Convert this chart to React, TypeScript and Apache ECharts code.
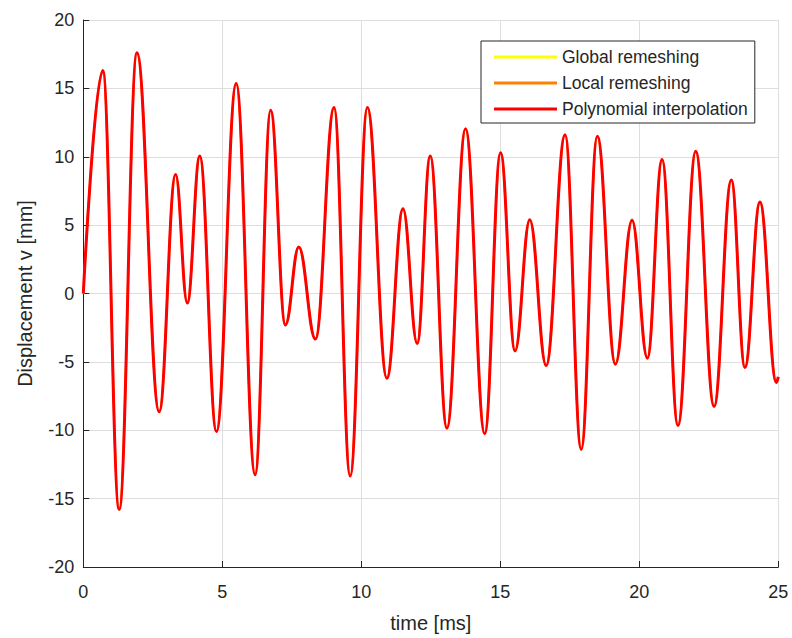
import React, { useEffect, useRef } from "react";
import * as echarts from "echarts";

// Extrema of the displacement trace (time in ms, displacement in mm)
const timeMs = [
  0, 0.7, 1.29, 1.93, 2.73, 3.32, 3.74, 4.19, 4.79, 5.5, 6.18, 6.74, 7.27, 7.75, 8.35,
  9.02, 9.6, 10.22, 10.92, 11.5, 12.01, 12.48, 13.08, 13.75, 14.44, 15.01, 15.53, 16.06,
  16.65, 17.33, 17.91, 18.49, 19.14, 19.74, 20.29, 20.82, 21.39, 22.03, 22.69, 23.31,
  23.8, 24.34, 24.93, 25.0,
];
const displacement = [
  0, 16.3, -15.8, 17.6, -8.65, 8.7, -0.7, 10.05, -10.1, 15.35, -13.25, 13.4, -2.3, 3.4,
  -3.33, 13.6, -13.35, 13.6, -6.2, 6.2, -3.65, 10.05, -9.85, 12.05, -10.25, 10.3, -4.2,
  5.4, -5.27, 11.6, -11.4, 11.5, -5.17, 5.36, -4.73, 9.8, -9.66, 10.4, -8.26, 8.3, -5.41,
  6.7, -6.5, -6.1,
];
// The three methods overlap completely in the reference
const globalRemeshing = displacement;
const localRemeshing = displacement;
const polynomialInterpolation = displacement;

const seriesNames = ["Global remeshing", "Local remeshing", "Polynomial interpolation"];
const seriesColors = ["#ffff00", "#ff8000", "#ff0000"];
const seriesValues = [globalRemeshing, localRemeshing, polynomialInterpolation];
const seriesWidths = [2, 2, 3];

const FONT = "'Liberation Sans', Arial, Helvetica, sans-serif";
const INK = "#262626";

export default function App() {
  const ref = useRef<HTMLDivElement>(null);
  useEffect(() => {
    if (!ref.current) return;
    const chart = echarts.init(ref.current, undefined, { renderer: "svg" });
    chart.setOption({
      animation: false,
      backgroundColor: "#ffffff",
      grid: { left: 83.3, top: 20, right: 13.7, bottom: 70.3, containLabel: false },
      legend: {
        orient: "vertical",
        left: 481,
        top: 41,
        padding: [6, 7, 4, 13],
        itemGap: 6,
        itemWidth: 63,
        itemHeight: 3,
        icon: "rect",
        borderColor: INK,
        borderWidth: 1,
        borderRadius: 0,
        backgroundColor: "#ffffff",
        data: seriesNames,
        textStyle: { fontFamily: FONT, fontSize: 17.5, color: INK, lineHeight: 20 },
      },
      xAxis: {
        type: "value",
        min: 0,
        max: 25,
        interval: 5,
        name: "time [ms]",
        nameLocation: "middle",
        nameGap: 46,
        nameTextStyle: { fontFamily: FONT, fontSize: 20, color: INK },
        axisLine: { show: true, onZero: false, lineStyle: { color: INK, width: 1 } },
        axisTick: { show: true, inside: true, length: 6, lineStyle: { color: INK } },
        axisLabel: { fontFamily: FONT, fontSize: 18, color: INK, margin: 16 },
        splitLine: { show: true, lineStyle: { color: "#dedede", width: 1 } },
      },
      yAxis: {
        type: "value",
        min: -20,
        max: 20,
        interval: 5,
        name: "Displacement v [mm]",
        nameLocation: "middle",
        nameGap: 48,
        nameTextStyle: { fontFamily: FONT, fontSize: 20, color: INK },
        axisLine: { show: true, onZero: false, lineStyle: { color: INK, width: 1 } },
        axisTick: { show: true, inside: true, length: 6, lineStyle: { color: INK } },
        axisLabel: { fontFamily: FONT, fontSize: 18, color: INK, margin: 9 },
        splitLine: { show: true, lineStyle: { color: "#dedede", width: 1 } },
      },
      series: seriesNames.map((name, i) => ({
        name,
        type: "line",
        data: timeMs.map((t, k) => [t, seriesValues[i][k]]),
        symbol: "none",
        showSymbol: false,
        smooth: 0.4,
        smoothMonotone: "x",
        color: seriesColors[i],
        itemStyle: { color: seriesColors[i] },
        lineStyle: { color: seriesColors[i], width: seriesWidths[i] },
        z: 2 + i,
      })),
    });
    return () => chart.dispose();
  }, []);
  return (
    <div
      ref={ref}
      style={{ position: "fixed", left: 0, top: 0, width: 792, height: 638 }}
    />
  );
}
